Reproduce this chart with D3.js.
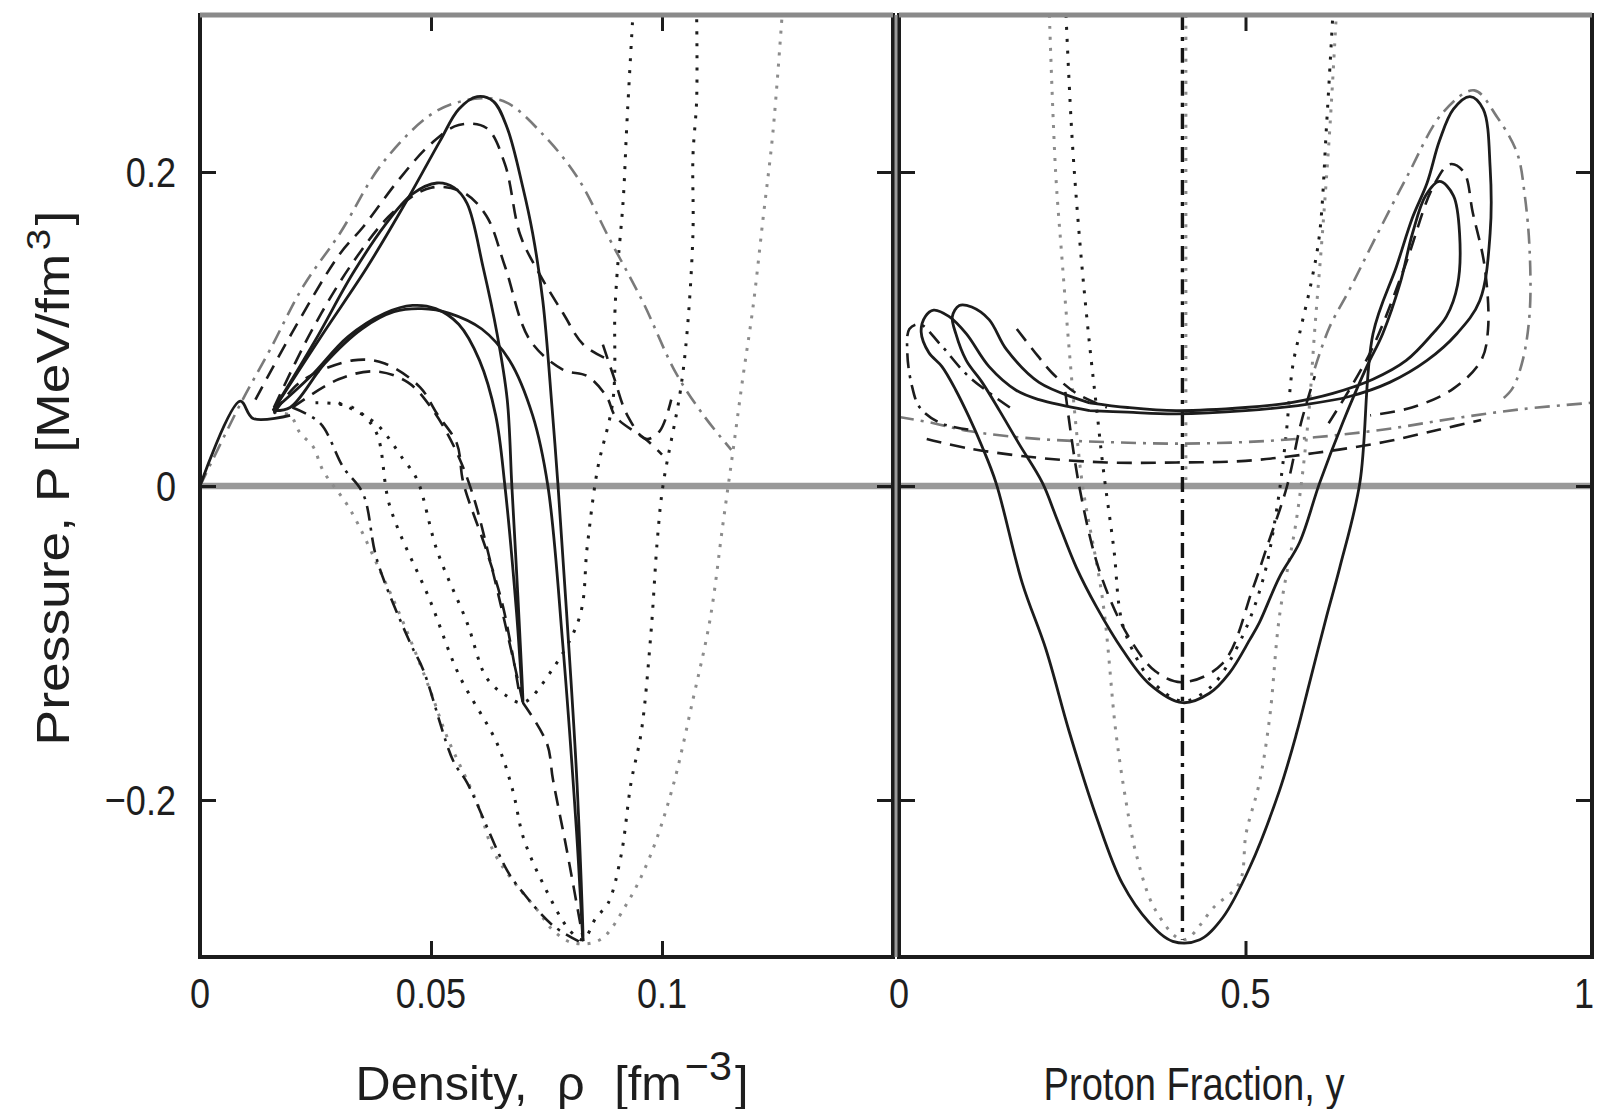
<!DOCTYPE html>
<html>
<head>
<meta charset="utf-8">
<script src="https://cdn.jsdelivr.net/npm/d3@7"></script>
<style>
  body { margin: 0; background: #fff; }
  text { font-family: "Liberation Sans", Arial, sans-serif; fill: #1e1e1e; }
</style>
</head>
<body>
<svg id="chart" width="1597" height="1109"></svg>
<script>
// ---- tick values / labels ----
const xLeftTicks = [0, 0.05, 0.1];
const xLeftLabels = ['0', '0.05', '0.1'];
const xRightTicks = [0, 0.5, 1];
const xRightLabels = ['0', '0.5', '1'];
const yTicks = [-0.2, 0, 0.2];
const yLabels = ['−0.2', '0', '0.2'];

// ---- left panel: [density, pressure] ----
const rhoOrigin = [[0, 0], [0.0087, 0.054], [0.0115, 0.043], [0.0195, 0.045]];
const rhoSolidA = [[0.0158, 0.048], [0.0266, 0.097], [0.0361, 0.139], [0.0448, 0.182], [0.052, 0.22], [0.056, 0.240],
  [0.060, 0.248], [0.0635, 0.245], [0.0665, 0.228], [0.0699, 0.19], [0.072, 0.161], [0.0742, 0.118], [0.0762, 0.05],
  [0.0775, 0.0], [0.0794, -0.083], [0.0816, -0.189], [0.0829, -0.289], [0.0815, -0.22], [0.0785, -0.1], [0.0753, 0.0],
  [0.072, 0.045], [0.067, 0.08], [0.061, 0.1], [0.054, 0.11], [0.048, 0.113], [0.042, 0.111], [0.035, 0.1],
  [0.027, 0.078], [0.0195, 0.05], [0.0158, 0.048]];
const rhoSolidB = [[0.0158, 0.048], [0.025, 0.093], [0.033, 0.135], [0.040, 0.166], [0.046, 0.186], [0.0513, 0.193],
  [0.055, 0.19], [0.0578, 0.18], [0.0613, 0.139], [0.0643, 0.097], [0.0665, 0.055], [0.0675, 0.0], [0.0688, -0.07],
  [0.0699, -0.138], [0.0685, -0.08], [0.066, 0.0], [0.064, 0.045], [0.0605, 0.08], [0.056, 0.103], [0.051, 0.113],
  [0.046, 0.115], [0.04, 0.11], [0.032, 0.095], [0.024, 0.07], [0.0158, 0.048]];
const rhoDashDotOuter = [[0, 0], [0.0087, 0.052], [0.0152, 0.087], [0.0223, 0.127], [0.0303, 0.161], [0.0396, 0.206],
  [0.0513, 0.239], [0.061, 0.247], [0.0665, 0.244], [0.0742, 0.224], [0.0816, 0.197], [0.0887, 0.157], [0.0959, 0.117],
  [0.103, 0.072], [0.109, 0.045], [0.115, 0.023]];
const rhoDashUpper = [[0.012, 0.055], [0.02, 0.098], [0.0303, 0.148], [0.0353, 0.165], [0.043, 0.195], [0.05, 0.218],
  [0.056, 0.23], [0.062, 0.228], [0.066, 0.205], [0.0693, 0.16], [0.0735, 0.135], [0.0786, 0.11], [0.083, 0.09], [0.0887, 0.08]];
const rhoDashMid = [[0.016, 0.05], [0.024, 0.098], [0.033, 0.142], [0.042, 0.175], [0.050, 0.19], [0.057, 0.187],
  [0.062, 0.172], [0.066, 0.14], [0.0714, 0.093], [0.0786, 0.074], [0.0838, 0.07], [0.088, 0.057], [0.09, 0.044],
  [0.0968, 0.029], [0.1, 0.02]];
const rhoDashLowA = [[0.016, 0.046], [0.0216, 0.066], [0.0331, 0.08], [0.04, 0.078], [0.0476, 0.063], [0.0513, 0.046],
  [0.0556, 0.027], [0.057, 0.002], [0.062, -0.041], [0.0656, -0.077], [0.069, -0.13]];
const rhoDashLowB = [[0.02, 0.05], [0.03, 0.068], [0.038, 0.073], [0.045, 0.066], [0.05, 0.05], [0.055, 0.025],
  [0.059, -0.005], [0.063, -0.05], [0.067, -0.1], [0.0699, -0.138]];
const rhoDashMinLink = [[0.0699, -0.138], [0.0751, -0.164], [0.0764, -0.187], [0.0794, -0.232], [0.083, -0.29]];
const rhoDashV = [[0.0872, 0.09], [0.0895, 0.07], [0.0925, 0.045], [0.0965, 0.03], [0.0995, 0.035], [0.102, 0.055]];
const rhoDotGray = [[0.016, 0.047], [0.0195, 0.045], [0.0216, 0.034], [0.0245, 0.025], [0.0266, 0.01], [0.0325, -0.015],
  [0.0396, -0.058], [0.044, -0.087], [0.0498, -0.13], [0.0535, -0.16], [0.06, -0.202], [0.0634, -0.232], [0.0671, -0.249],
  [0.073, -0.27], [0.0764, -0.283], [0.0807, -0.291], [0.0866, -0.289], [0.0924, -0.266], [0.0974, -0.236],
  [0.1023, -0.192], [0.1067, -0.136], [0.1104, -0.085], [0.1132, -0.024], [0.1154, 0.023], [0.1175, 0.069],
  [0.1197, 0.114], [0.1219, 0.171], [0.124, 0.225], [0.126, 0.3]];
const rhoDashDotLeft = [[0.02, 0.05], [0.026, 0.04], [0.031, 0.012], [0.0353, -0.005], [0.0383, -0.047], [0.0455, -0.1],
  [0.0483, -0.117], [0.0548, -0.175], [0.0578, -0.189], [0.0665, -0.245], [0.0699, -0.259], [0.0764, -0.28], [0.082, -0.29]];
const rhoDotB = [[0.025, 0.053], [0.033, 0.05], [0.038, 0.035], [0.0411, -0.013], [0.0498, -0.073], [0.056, -0.12],
  [0.0643, -0.164], [0.0677, -0.194], [0.07, -0.224], [0.0742, -0.253], [0.08, -0.283], [0.0829, -0.289],
  [0.0857, -0.275], [0.0883, -0.266], [0.0911, -0.236], [0.0933, -0.189], [0.0955, -0.157], [0.0976, -0.094],
  [0.099, -0.034], [0.1002, 0.0], [0.1039, 0.059], [0.1054, 0.097], [0.1067, 0.161], [0.1067, 0.21], [0.1075, 0.246], [0.1075, 0.3]];
const rhoDotC = [[0.03, 0.053], [0.038, 0.04], [0.044, 0.017], [0.047, 0.004], [0.0513, -0.041], [0.0578, -0.087],
  [0.062, -0.122], [0.066, -0.133], [0.0699, -0.138], [0.076, -0.118], [0.0822, -0.083], [0.0838, -0.039],
  [0.086, 0.01], [0.0894, 0.055], [0.0898, 0.11], [0.0903, 0.136], [0.0916, 0.182], [0.0924, 0.231], [0.0937, 0.3]];

// ---- right panel: [proton fraction, pressure] ----
const ySolidA = [[0.275, 0.048], [0.202, 0.055], [0.169, 0.061], [0.13, 0.076], [0.097, 0.097], [0.072, 0.108],
  [0.05, 0.112], [0.038, 0.108], [0.032, 0.098], [0.043, 0.085], [0.062, 0.076], [0.082, 0.061], [0.101, 0.044],
  [0.12, 0.025], [0.14, 0.002], [0.178, -0.062], [0.212, -0.104], [0.246, -0.157], [0.285, -0.211], [0.322, -0.253],
  [0.361, -0.278], [0.395, -0.29], [0.434, -0.289], [0.467, -0.275], [0.506, -0.243], [0.549, -0.194], [0.574, -0.157],
  [0.592, -0.126], [0.617, -0.083], [0.636, -0.052], [0.665, 0.002], [0.684, 0.097], [0.718, 0.14], [0.741, 0.171],
  [0.762, 0.193], [0.78, 0.22], [0.8, 0.24], [0.824, 0.248], [0.843, 0.24], [0.853, 0.203], [0.853, 0.161],
  [0.838, 0.118], [0.805, 0.097], [0.762, 0.08], [0.708, 0.066], [0.65, 0.057], [0.588, 0.052], [0.5, 0.048],
  [0.4, 0.046], [0.33, 0.047], [0.275, 0.048]];
const ySolidB = [[0.275, 0.053], [0.202, 0.066], [0.155, 0.087], [0.13, 0.106], [0.105, 0.114], [0.087, 0.115],
  [0.077, 0.108], [0.082, 0.097], [0.097, 0.08], [0.12, 0.066], [0.145, 0.048], [0.173, 0.027], [0.207, 0.002],
  [0.227, -0.02], [0.256, -0.052], [0.285, -0.077], [0.322, -0.104], [0.361, -0.126], [0.409, -0.138], [0.448, -0.132],
  [0.477, -0.119], [0.506, -0.098], [0.52, -0.087], [0.549, -0.058], [0.578, -0.036], [0.607, 0.002], [0.64, 0.04],
  [0.675, 0.076], [0.698, 0.097], [0.723, 0.129], [0.741, 0.161], [0.76, 0.185], [0.78, 0.194], [0.8, 0.185],
  [0.809, 0.16], [0.806, 0.128], [0.79, 0.108], [0.77, 0.097], [0.732, 0.08], [0.684, 0.068], [0.626, 0.059],
  [0.564, 0.053], [0.5, 0.05], [0.4, 0.048], [0.33, 0.05], [0.275, 0.053]];
const yVertical = [[0.409, 0.3], [0.409, 0.1], [0.409, -0.1], [0.409, -0.289]];
const yVerticalGray = [[0.414, 0.3], [0.414, 0.15], [0.414, 0.0]];
const yDotGray = [[0.217, 0.3], [0.226, 0.2], [0.235, 0.146], [0.245, 0.09], [0.255, 0.04], [0.265, 0.0],
  [0.294, -0.073], [0.313, -0.157], [0.328, -0.202], [0.342, -0.234], [0.37, -0.27], [0.41, -0.289], [0.455, -0.268],
  [0.491, -0.253], [0.501, -0.221], [0.52, -0.189], [0.535, -0.147], [0.549, -0.083], [0.574, -0.02], [0.59, 0.04],
  [0.6, 0.1], [0.611, 0.161], [0.622, 0.23], [0.631, 0.3]];
const yDotInner = [[0.241, 0.3], [0.25, 0.22], [0.262, 0.15], [0.275, 0.09], [0.285, 0.05], [0.295, 0.01],
  [0.31, -0.04], [0.322, -0.087], [0.347, -0.113], [0.366, -0.125], [0.409, -0.137], [0.45, -0.128], [0.491, -0.1],
  [0.525, -0.06], [0.545, -0.015], [0.558, 0.03], [0.568, 0.076], [0.578, 0.097], [0.595, 0.13], [0.607, 0.161],
  [0.617, 0.23], [0.626, 0.3]];
const yDashDotLoop = [[0.6, 0.075], [0.621, 0.101], [0.65, 0.125], [0.684, 0.155], [0.733, 0.197], [0.785, 0.238],
  [0.83, 0.252], [0.863, 0.235], [0.892, 0.212], [0.903, 0.185], [0.91, 0.15], [0.91, 0.11], [0.9, 0.08],
  [0.885, 0.062], [0.87, 0.055]];
const yDashDotFlat = [[0.0, 0.044], [0.05, 0.04], [0.1, 0.035], [0.2, 0.03], [0.3, 0.028], [0.4, 0.027], [0.5, 0.028],
  [0.6, 0.031], [0.7, 0.036], [0.8, 0.043], [0.9, 0.049], [1.0, 0.053]];
const yDashFlat = [[0.04, 0.03], [0.1, 0.024], [0.2, 0.018], [0.3, 0.015], [0.4, 0.015], [0.5, 0.016], [0.6, 0.021],
  [0.7, 0.028], [0.78, 0.036], [0.84, 0.042]];
const yDashDotLeft = [[0.16, 0.05], [0.1, 0.07], [0.06, 0.09], [0.03, 0.103], [0.015, 0.1], [0.012, 0.085],
  [0.018, 0.065], [0.03, 0.05], [0.06, 0.04], [0.1, 0.036]];
const yDashMidLeft = [[0.17, 0.1], [0.2, 0.083], [0.221, 0.072], [0.256, 0.059], [0.3, 0.05]];
const yDashInnerU = [[0.24, 0.06], [0.26, 0.0], [0.29, -0.055], [0.33, -0.095], [0.37, -0.118], [0.409, -0.125],
  [0.467, -0.113], [0.51, -0.066], [0.53, -0.04], [0.56, 0.0], [0.58, 0.04], [0.6, 0.07]];
const yDashRightLoop = [[0.62, 0.04], [0.68, 0.085], [0.73, 0.14], [0.77, 0.19], [0.795, 0.205], [0.815, 0.2],
  [0.828, 0.174], [0.845, 0.14], [0.85, 0.1], [0.84, 0.08], [0.8, 0.062], [0.74, 0.05], [0.68, 0.045]];

// ---- layout ----
const plotTop = 15, plotBottom = 957;
const svg = d3.select('#chart');
const y = d3.scaleLinear().domain([-0.3, 0.3]).range([plotBottom, plotTop]);
const xLeft = d3.scaleLinear().domain([0, 0.15]).range([200, 893]);
const xRight = d3.scaleLinear().domain([0, 1]).range([899, 1592]);

const STYLES = {
  solid: { stroke: '#1c1c1c', width: 2.8, dash: null },
  dash: { stroke: '#1c1c1c', width: 2.6, dash: '15,9' },
  dashdot: { stroke: '#1c1c1c', width: 2.6, dash: '15,7,3,7' },
  vline: { stroke: '#151515', width: 3.4, dash: '15,7,4,7' },
  dot: { stroke: '#1c1c1c', width: 3, dash: '3,9' },
  grayDot: { stroke: '#8c8c8c', width: 3, dash: '3,8' },
  grayDashDot: { stroke: '#7a7a7a', width: 2.6, dash: '15,7,3,7' }
};

const leftCurves = [
  [rhoDotGray, 'grayDot'], [rhoDotB, 'dot'], [rhoDotC, 'dot'], [rhoDashDotLeft, 'dashdot'],
  [rhoDashLowA, 'dash'], [rhoDashLowB, 'dash'], [rhoDashMinLink, 'dash'], [rhoDashV, 'dash'],
  [rhoDashMid, 'dash'], [rhoDashUpper, 'dash'], [rhoDashDotOuter, 'grayDashDot'],
  [rhoOrigin, 'solid'], [rhoSolidA, 'solid'], [rhoSolidB, 'solid']
];
const rightCurves = [
  [yDotGray, 'grayDot'], [yDotInner, 'dot'], [yVerticalGray, 'grayDot'], [yVertical, 'vline'],
  [yDashDotFlat, 'grayDashDot'], [yDashFlat, 'dash'], [yDashDotLeft, 'dashdot'], [yDashMidLeft, 'dash'],
  [yDashInnerU, 'dash'], [yDashRightLoop, 'dash'], [yDashDotLoop, 'grayDashDot'],
  [ySolidA, 'solid'], [ySolidB, 'solid']
];

function addText(g, parts, x, yy, o) {
  const t = g.append('text')
    .attr('text-anchor', o.anchor || 'middle')
    .style('font-size', o.size + 'px');
  if (o.wordSpacing) t.style('word-spacing', o.wordSpacing + 'px');
  parts.forEach(p => {
    const s = t.append('tspan').text(p.t);
    if (p.sup) s.attr('dy', -o.size * 0.42).attr('dx', 3).style('font-size', (o.size * (o.supScale || 0.72)) + 'px');
    if (p.down) s.attr('dy', o.size * 0.42).attr('dx', 3);
  });
  let sx = o.sx || 1;
  if (o.width) sx = o.width / t.node().getBBox().width;
  t.attr('transform', `translate(${x},${yy}) rotate(${o.rotate || 0}) scale(${sx},1)`);
  return t;
}

function drawPanel(id, x, xTicks, xLabels, curves, showYLabels) {
  const [x0, x1] = x.range();
  const g = svg.append('g');

  g.append('clipPath').attr('id', 'clip-' + id)
    .append('rect').attr('x', x0).attr('y', plotTop).attr('width', x1 - x0).attr('height', plotBottom - plotTop);

  // zero line
  g.append('line')
    .attr('x1', x0).attr('x2', x1).attr('y1', y(0)).attr('y2', y(0))
    .attr('stroke', '#999').attr('stroke-width', 6.5);

  const line = d3.line()
    .x(d => x(d[0]))
    .y(d => y(d[1]))
    .curve(d3.curveCatmullRom.alpha(0.5));

  const cg = g.append('g').attr('clip-path', `url(#clip-${id})`);
  curves.forEach(([data, key]) => {
    const s = STYLES[key];
    cg.append('path')
      .attr('d', line(data))
      .attr('fill', 'none')
      .attr('stroke', s.stroke)
      .attr('stroke-width', s.width)
      .attr('stroke-dasharray', s.dash)
      .attr('stroke-linejoin', 'round');
  });

  // ticks on all four sides, pointing inward
  const axes = [
    [d3.axisBottom(x).tickValues(xTicks), `translate(0,${plotBottom})`],
    [d3.axisTop(x).tickValues(xTicks), `translate(0,${plotTop})`],
    [d3.axisLeft(y).tickValues(yTicks), `translate(${x0},0)`],
    [d3.axisRight(y).tickValues(yTicks), `translate(${x1},0)`]
  ];
  axes.forEach(([ax, tr]) => {
    const a = g.append('g').attr('transform', tr)
      .call(ax.tickSize(-16).tickFormat(''));
    a.select('.domain').remove();
    a.selectAll('line').attr('stroke', '#1c1c1c').attr('stroke-width', 3);
  });

  // frame: black sides and bottom, grey top
  g.append('rect')
    .attr('x', x0).attr('y', plotTop).attr('width', x1 - x0).attr('height', plotBottom - plotTop)
    .attr('fill', 'none').attr('stroke', '#1c1c1c').attr('stroke-width', 4);
  g.append('line')
    .attr('x1', x0).attr('x2', x1).attr('y1', plotTop).attr('y2', plotTop)
    .attr('stroke', '#8a8a8a').attr('stroke-width', 5);

  xTicks.forEach((v, i) => {
    const px = Math.min(x(v), 1584);
    addText(g, [{ t: xLabels[i] }], px, 1008, { size: 43, sx: 0.84 });
  });
  if (showYLabels) {
    yTicks.forEach((v, i) => {
      addText(g, [{ t: yLabels[i] }], 176, y(v) + 15, { size: 43, sx: 0.84, anchor: 'end' });
    });
  }
}

drawPanel('l', xLeft, xLeftTicks, xLeftLabels, leftCurves, true);
drawPanel('r', xRight, xRightTicks, xRightLabels, rightCurves, false);

// grey seam between the two frames
svg.append('line')
  .attr('x1', 896).attr('x2', 896).attr('y1', plotTop).attr('y2', plotBottom)
  .attr('stroke', '#9a9a9a').attr('stroke-width', 3);

// axis titles
addText(svg, [{ t: 'Density, ρ [fm' }, { t: '−3', sup: true }, { t: ']', down: true }], 552, 1100,
  { size: 48, width: 393, wordSpacing: 16, supScale: 0.85 });
addText(svg, [{ t: 'Proton Fraction, y' }], 1194, 1100, { size: 46, width: 301 });
addText(svg, [{ t: 'Pressure, P [MeV/fm' }, { t: '3', sup: true }, { t: ']', down: true }], 69, 478,
  { size: 46, width: 535, rotate: -90 });
</script>
</body>
</html>
